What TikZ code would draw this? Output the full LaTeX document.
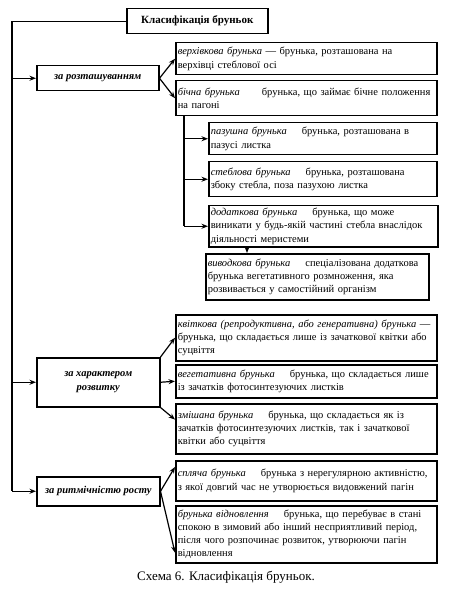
\documentclass[tikz,border=0pt]{standalone}
\usepackage{fontspec}
\setmainfont{Liberation Serif}
\usetikzlibrary{arrows.meta}
\newcommand\dgap{\hspace{15pt}}
\begin{document}
\begin{tikzpicture}[x=1pt,y=-1pt,
  boxnode/.style={draw,line width=1.5pt,rectangle,anchor=north west,inner xsep=2pt,inner ysep=1pt,
     align=left,font=\fontsize{10.5}{13.3}\selectfont},
  catnode/.style={draw,line width=1.5pt,rectangle,anchor=north west,inner sep=1pt,
     align=center,font=\fontsize{10.5}{13.3}\selectfont\bfseries\itshape},
  conn/.style={line width=1.2pt},
  arr/.style={line width=1.2pt,-{Stealth[length=6.5pt,width=5pt]}}]
\useasboundingbox (0,0) rectangle (449,593);
% title
\node[draw,line width=1.5pt,anchor=north west,minimum width=141pt,minimum height=25pt,inner sep=1pt,
  font=\fontsize{11}{13}\selectfont\bfseries] (title) at (126,8) {Класифікація бруньок};
% categories
\node[catnode,minimum width=122pt,minimum height=25pt] (loc) at (36,65) {за розташуванням};
\node[catnode,minimum width=123pt,minimum height=49pt] (dev) at (36,357) {за характером\\розвитку};
\node[catnode,minimum width=123pt,minimum height=29pt] (rhy) at (36,476) {за ритмічністю росту};
% boxes
\node[boxnode,minimum width=261pt,minimum height=32pt,text width=257pt] (b1) at (175,42)
  {\textit{верхівкова брунька} — брунька, розташована на\\верхівці стеблової осі};
\node[boxnode,minimum width=261pt,minimum height=35pt,text width=257pt] (b2) at (175,80)
  {\textit{бічна брунька}\hspace{22pt}брунька, що займає бічне положення\\на пагоні};
\node[boxnode,minimum width=228pt,minimum height=32pt,text width=224pt] (b3) at (208,122)
  {\textit{пазушна брунька}\dgap брунька, розташована в\\пазусі листка};
\node[boxnode,minimum width=228pt,minimum height=35pt,text width=224pt] (b4) at (208,161)
  {\textit{стеблова брунька}\dgap брунька, розташована\\збоку стебла, поза пазухою листка};
\node[boxnode,minimum width=229pt,minimum height=41pt,text width=225pt] (b5) at (208,205)
  {\textit{додаткова брунька}\dgap брунька, що може\\виникати у будь-якій частині стебла внаслідок\\діяльності меристеми};
\node[boxnode,minimum width=223pt,minimum height=46pt,text width=219pt] (b6) at (205,253)
  {\textit{виводкова брунька}\dgap спеціалізована додаткова\\брунька вегетативного розмноження, яка\\розвивається у самостійний організм};
\node[boxnode,minimum width=261pt,minimum height=46pt,text width=257pt] (c1) at (175,314)
  {\textit{квіткова (репродуктивна, або генеративна) брунька} —\\брунька, що складається лише із зачаткової квітки або\\суцвіття};
\node[boxnode,minimum width=261pt,minimum height=33pt,text width=257pt] (c2) at (175,364)
  {\textit{вегетативна брунька}\dgap брунька, що складається лише\\із зачатків фотосинтезуючих листків};
\node[boxnode,minimum width=261pt,minimum height=50pt,text width=257pt] (c3) at (175,403)
  {\textit{змішана брунька}\dgap брунька, що складається як із\\зачатків фотосинтезуючих листків, так і зачаткової\\квітки або суцвіття};
\node[boxnode,minimum width=261pt,minimum height=40pt,text width=257pt] (d1) at (175,460)
  {\textit{спляча брунька}\dgap брунька з нерегулярною активністю,\\з якої довгий час не утворюється видовжений пагін};
\node[boxnode,minimum width=261pt,minimum height=57pt,text width=257pt] (d2) at (175,505)
  {\textit{брунька відновлення}\dgap брунька, що перебуває в стані\\спокою в зимовий або інший несприятливий період,\\після чого розпочинає розвиток, утворюючи пагін\\відновлення};
% caption
\node[font=\fontsize{13}{15}\selectfont] (cap) at (226,577) {Схема 6. Класифікація бруньок.};
% connectors
\coordinate (tr) at (12,0);
\coordinate (vb) at (184,0);
\coordinate (wb) at (247,0);
\draw[conn] (title.west) -- (tr |- title.west) -- (tr |- rhy.west);
\draw[arr] (tr |- loc.west) -- (loc.west);
\draw[arr] (tr |- dev.west) -- (dev.west);
\draw[arr] (tr |- rhy.west) -- (rhy.west);
\draw[arr] (loc.east) -- (b1.west);
\draw[arr] (loc.east) -- (b2.west);
\draw[conn] (vb |- b2.south) -- (vb |- b5.west);
\draw[arr] (vb |- b3.west) -- (b3.west);
\draw[arr] (vb |- b4.west) -- (b4.west);
\draw[arr] (vb |- b5.west) -- (b5.west);
\draw[arr] (wb |- b5.south) -- (wb |- b6.north);
\draw[arr] (dev.north east) -- (c1.west);
\draw[arr] (dev.east) -- (c2.west);
\draw[arr] (dev.south east) -- (c3.176);
\draw[arr] (rhy.east) -- (d1.174);
\draw[arr] (rhy.east) -- (d2.188);
\end{tikzpicture}
\end{document}
